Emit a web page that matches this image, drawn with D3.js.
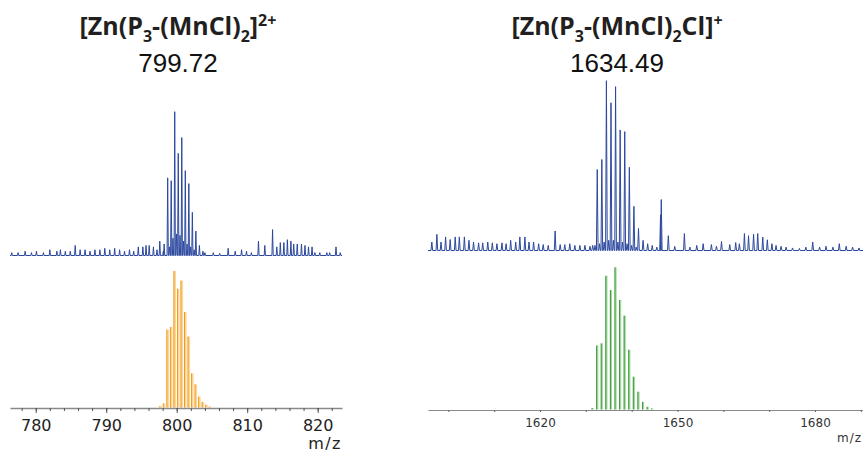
<!DOCTYPE html>
<html><head><meta charset="utf-8">
<script src="https://cdn.jsdelivr.net/npm/d3@7"></script>
<style>body{margin:0;background:#fff}svg{display:block}</style>
</head><body><svg id="c" width="863" height="453"></svg>
<script>
// ---------- LEFT PANEL DATA ([Zn(P3-(MnCl)2]2+) ----------
const leftTitleValue = "799.72";
const leftTickLabels = [780, 790, 800, 810, 820];
const leftMinorTicks = [778,780,782,784,786,788,790,792,794,796,798,800,802,804,806,808,810,812,814,816,818,820,822];
// experimental spectrum peaks (m/z, relative intensity %)
const leftExpMz = [
  776.6,777.5,778.5,779.4,780.1,781.1,782.0,783.0,783.5,784.2,784.9,785.6,786.3,787.0,787.7,788.4,789.1,789.8,790.5,791.2,791.9,
  792.6,793.3,793.9,794.55,795.2,795.65,796.1,796.7,797.2,797.6,798.1,
  798.22,798.72,798.97,799.22,799.47,799.72,799.97,800.22,800.47,800.72,800.97,801.22,801.47,801.72,801.97,802.22,802.47,802.72,803.22,803.72,
  804.0,805.2,806.1,807.3,808.3,809.2,809.9,810.6,811.6,812.5,813.6,814.2,814.7,815.2,815.7,816.2,816.6,817.1,817.7,818.2,818.7,819.2,819.6,820.3,821.3,821.7,822.6,823.2
];
const leftExpInt = [
  2,2,3,2,3,2,4,3,4,3,3,7,4,4,3,4,4,5,4,5,4,
  3,4,3,6,6,7,7,6,4,10,3,
  8,54,6,52,12,100,15,71,14,82,10,59,8,50,6,30,4,17,7,3,
  2,2,1.5,5,3,4,3,2,10,7,18,6,9,9,11,10,8,8,8,7,6,6,2,2,2,2,6,2
];
// simulated isotope pattern
const leftSimMz  = [797.72,798.22,798.72,799.22,799.72,800.22,800.72,801.22,801.72,802.22,802.72,803.22,803.72,804.22,804.72];
const leftSimInt = [1,3,57,59,100,87,93,70,52,25,17,8,4,2,0.7];

// ---------- RIGHT PANEL DATA ([Zn(P3-(MnCl)2Cl]+) ----------
const rightTitleValue = "1634.49";
const rightTickLabels = [1620, 1650, 1680];
const rightMinorTicks = [1600,1610,1620,1630,1640,1650,1660,1670,1680,1690];
const rightExpMz = [
  1596.4,1597.5,1598.4,1599.4,1600.4,1601.5,1602.4,1603.5,1604.5,1605.5,1606.6,1607.5,1608.6,1609.6,1610.6,1611.7,1612.6,1613.6,1614.7,1615.6,1616.7,1617.6,1618.6,1619.7,1620.7,1621.8,1623.3,1624.4,1625.4,1626.5,1627.6,1628.7,1629.8,1630.9,
  1631.49,1632.0,1632.49,1633.0,1633.49,1634.0,1634.49,1635.0,1635.49,1636.0,1636.49,1637.0,1637.49,1638.0,1638.49,1639.0,1639.49,1640.0,1640.49,1641.0,1641.49,1642.49,1643.49,1644.49,1645.49,
  1646.3,1646.46,1648.0,1649.4,1651.5,1652.7,1654.2,1655.6,1657.4,1658.5,1659.6,1661.4,1662.7,1663.5,1664.6,1665.5,1666.6,1667.5,1668.6,1669.6,1670.6,1671.5,1672.6,1673.7,1675.1,1676.6,1678.0,1679.5,1681.0,1682.4,1683.9,1685.3,1686.8,1688.2,1689.6
];
const rightExpInt = [
  5,9.5,5,8,6.5,8,8,8,6,5,4.5,4.5,5,4.5,4,4.5,4,6,5,8,8,5,5,4,3.5,3,11.5,3.5,3.5,4,3,3,3,2.5,
  3,3,47.7,4,53.6,5,100,6,87,6,96.5,5,71,5,70,4,49,3,26,2,13,6,4,3,2,
  21,30,8.7,2.4,10,2,3,4,3.5,2.5,5.3,3.5,4.7,4,10,8.7,9.6,10,7.9,6.3,4,3,2.5,2,1.5,1.2,2,5,2,2.5,2,4,2.5,2,1.5
];
const rightSimMz  = [1631.49,1632.49,1633.49,1634.49,1635.49,1636.49,1637.49,1638.49,1639.49,1640.49,1641.49,1642.49,1643.49,1644.49];
const rightSimInt = [1,45,46.5,94,84,100,77,66,42,23,12.5,5.4,1.9,0.7];

// ---------- DRAWING ----------
const svg = d3.select("#c");
svg.append("rect").attr("width",863).attr("height",453).attr("fill","#fff");

const expColor = "#2c489e";

function spectrumPath(mz, inten, x, y, w) {
  const pts = d3.zip(mz, inten).sort((a,b)=>a[0]-b[0]);
  const dom = x.domain();
  const out = [[dom[0],0]];
  pts.forEach(([m,h]) => { out.push([m-w,0],[m,h],[m+w,0]); });
  out.push([dom[1],0]);
  return d3.line().x(d=>x(d[0])).y(d=>y(d[1]))(out);
}

function drawSim(g, mz, inten, x, y, light, dark, bw) {
  const data = d3.zip(mz, inten);
  g.selectAll("rect.sim").data(data).join("rect").attr("class","sim")
    .attr("x", d => x(d[0]) - bw/2).attr("width", bw)
    .attr("y", d => y(d[1])).attr("height", d => y(0) - y(d[1]))
    .attr("fill", light);
  g.selectAll("line.sim").data(data).join("line").attr("class","sim")
    .attr("x1", d => x(d[0]) - bw/2 + 0.5).attr("x2", d => x(d[0]) - bw/2 + 0.5)
    .attr("y1", d => y(d[1])).attr("y2", y(0))
    .attr("stroke", dark).attr("stroke-width", 1);
}

function drawTitle(cx, parts, value) {
  const t = svg.append("text").attr("x", cx).attr("y", 35).attr("text-anchor","middle")
    .attr("font-family","'Open Sans', 'Noto Sans', sans-serif").attr("font-weight",700)
    .attr("font-size",25).attr("fill","#231f20");
  parts.forEach(p => {
    const s = t.append("tspan").text(p.t);
    if (p.sub) s.attr("font-size",16).attr("dy",7);
    if (p.sup) s.attr("font-size",16).attr("dy",-9);
    if (p.back) s.attr("dy",p.back);
  });
  svg.append("text").attr("x", cx).attr("y", 72).attr("text-anchor","middle")
    .attr("font-family","'Liberation Sans', Arial, sans-serif").attr("font-size",26)
    .attr("fill","#111").text(value);
}

// Left panel
const xL = d3.scaleLinear().domain([776.35, 823.45]).range([10, 342]);
const yLe = d3.scaleLinear().domain([0,100]).range([255.5, 111.7]);
const yLs = d3.scaleLinear().domain([0,100]).range([407.5, 271]);

svg.append("path").attr("d", spectrumPath(leftExpMz, leftExpInt, xL, yLe, 0.09))
  .attr("fill","none").attr("stroke",expColor).attr("stroke-width",1).attr("stroke-linejoin","round");
drawSim(svg.append("g"), leftSimMz, leftSimInt, xL, yLs, "#fcd79c", "#f39a1c", 2.6);

const axL = svg.append("g").attr("transform","translate(0,408)");
axL.call(d3.axisBottom(xL).tickValues(leftMinorTicks).tickSize(3).tickFormat("").tickSizeOuter(0));
axL.call(g => g.select(".domain").attr("stroke","#8a8a8a").attr("stroke-width",1.3));
axL.selectAll(".tick line").attr("stroke","#555");
const axL2 = svg.append("g").attr("transform","translate(0,408)");
axL2.call(d3.axisBottom(xL).tickValues(leftTickLabels).tickSize(5).tickPadding(8).tickSizeOuter(0).tickFormat(d3.format("d")));
axL2.select(".domain").remove();
axL2.selectAll(".tick line").attr("stroke","#555");
axL2.selectAll(".tick text").attr("font-family","'DejaVu Sans', sans-serif").attr("font-size",16)
  .attr("fill","#222").attr("dy",null).attr("y",23);
svg.append("text").attr("x",342).attr("y",449).attr("text-anchor","end")
  .attr("font-family","'DejaVu Sans', sans-serif").attr("font-size",16).attr("letter-spacing",1.5)
  .attr("fill","#222").text("m/z");

drawTitle(178, [{t:"[Zn(P"},{t:"3",sub:true},{t:"-(MnCl)",back:-7},{t:"2",sub:true},{t:"]",back:-7},{t:"2+",sup:true}], leftTitleValue);

// Right panel
const xR = d3.scaleLinear().domain([1620, 1650]).range([540, 677.5]);
xR.domain([xR.invert(428), xR.invert(863)]).range([428, 863]);
const yRe = d3.scaleLinear().domain([0,100]).range([250.5, 80.7]);
const yRs = d3.scaleLinear().domain([0,100]).range([409.5, 267.3]);

svg.append("path").attr("d", spectrumPath(rightExpMz, rightExpInt, xR, yRe, 0.18))
  .attr("fill","none").attr("stroke",expColor).attr("stroke-width",1).attr("stroke-linejoin","round");
drawSim(svg.append("g"), rightSimMz, rightSimInt, xR, yRs, "#a9d9a2", "#3c9a3c", 2.2);

const axR = svg.append("g").attr("transform","translate(0,410)");
axR.call(d3.axisBottom(xR).tickValues(rightMinorTicks).tickSize(2).tickFormat("").tickSizeOuter(0));
axR.select(".domain").attr("stroke","#8a8a8a").attr("stroke-width",1.2);
axR.selectAll(".tick line").attr("stroke","#666");
const axR2 = svg.append("g").attr("transform","translate(0,410)");
axR2.call(d3.axisBottom(xR).tickValues(rightTickLabels).tickSize(0).tickSizeOuter(0).tickFormat(d3.format("d")));
axR2.select(".domain").remove();
axR2.selectAll(".tick text").attr("font-family","'DejaVu Sans', sans-serif").attr("font-size",12)
  .attr("fill","#333").attr("dy",null).attr("y",16.5);
svg.append("text").attr("x",862).attr("y",441.5).attr("text-anchor","end")
  .attr("font-family","'DejaVu Sans', sans-serif").attr("font-size",12).attr("letter-spacing",1)
  .attr("fill","#333").text("m/z");

drawTitle(617, [{t:"[Zn(P"},{t:"3",sub:true},{t:"-(MnCl)",back:-7},{t:"2",sub:true},{t:"Cl]",back:-7},{t:"+",sup:true}], rightTitleValue);
</script></body></html>
